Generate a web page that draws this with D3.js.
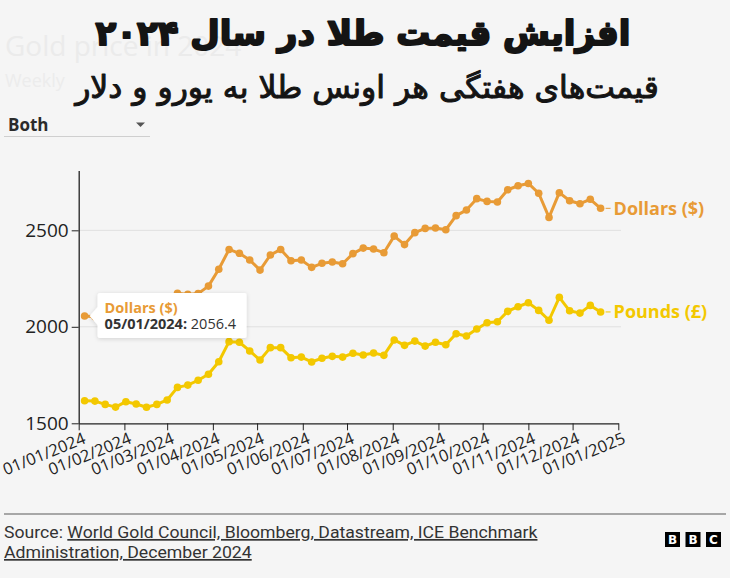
<!DOCTYPE html>
<html>
<head>
<meta charset="utf-8">
<script src="https://cdn.jsdelivr.net/npm/d3@7"></script>
<style>
  body { margin: 0; background: #f5f5f5; }
  svg { display: block; }
</style>
</head>
<body>
<svg id="chart"></svg>
<script>
// weekly prices (Fridays), 2024
const dates = [
  '2024-01-05','2024-01-12','2024-01-19','2024-01-26',
  '2024-02-02','2024-02-09','2024-02-16','2024-02-23',
  '2024-03-01','2024-03-08','2024-03-15','2024-03-22','2024-03-29',
  '2024-04-05','2024-04-12','2024-04-19','2024-04-26',
  '2024-05-03','2024-05-10','2024-05-17','2024-05-24','2024-05-31',
  '2024-06-07','2024-06-14','2024-06-21','2024-06-28',
  '2024-07-05','2024-07-12','2024-07-19','2024-07-26',
  '2024-08-02','2024-08-09','2024-08-16','2024-08-23','2024-08-30',
  '2024-09-06','2024-09-13','2024-09-20','2024-09-27',
  '2024-10-04','2024-10-11','2024-10-18','2024-10-25',
  '2024-11-01','2024-11-08','2024-11-15','2024-11-22','2024-11-29',
  '2024-12-06','2024-12-13','2024-12-20'
];

const dollars = [
  2056.4, 2052, 2030, 2025, 2040, 2035, 2020, 2025, 2045, 2174,
  2168, 2172, 2211, 2298, 2401, 2381, 2346, 2294, 2372, 2401,
  2342, 2346, 2308, 2329, 2336, 2327, 2379, 2408, 2403, 2384,
  2470, 2426, 2488, 2510, 2512, 2503, 2576, 2605, 2664, 2650,
  2647, 2710, 2731, 2743, 2692, 2567, 2695, 2653, 2638, 2661,
  2614
];

const pounds = [
  1617, 1615, 1598, 1584, 1612, 1600, 1583, 1598, 1621, 1686,
  1698, 1723, 1754, 1819, 1923, 1920, 1875, 1828, 1892, 1892,
  1840, 1843, 1818, 1837, 1847, 1843, 1863, 1854, 1864, 1852,
  1932, 1904, 1926, 1900, 1920, 1907, 1964, 1952, 1989, 2021,
  2026, 2080, 2104, 2125, 2085, 2034, 2153, 2083, 2071, 2111,
  2077
];

const monthTicks = [
  '2024-01-01','2024-02-01','2024-03-01','2024-04-01','2024-05-01','2024-06-01',
  '2024-07-01','2024-08-01','2024-09-01','2024-10-01','2024-11-01','2024-12-01','2025-01-01'
];
const yTicks = [1500, 2000, 2500];

const title = 'افزایش قیمت طلا در سال ۲۰۲۴';
const subtitle = 'قیمت‌های هفتگی هر اونس طلا به یورو و دلار';

const width = 730;
const height = 578;

const orange = '#e89b36';
const yellow = '#f3c800';

const parseDate = d3.timeParse('%Y-%m-%d');

const svg = d3.select('#chart')
  .attr('width', width)
  .attr('height', height);

svg.append('rect')
  .attr('width', width)
  .attr('height', height)
  .attr('fill', '#f5f5f5');

// faint leftover english header
svg.append('text')
  .attr('x', 5).attr('y', 56)
  .style('font', '28px "Open Sans"')
  .attr('fill', '#ebebeb')
  .text('Gold price in 2024');
svg.append('text')
  .attr('x', 5).attr('y', 87)
  .style('font', '18px "Open Sans"')
  .attr('fill', '#ececec')
  .text('Weekly price of an ounce of gold in US dollars and UK pounds');
// the persian subtitle sits on a plain patch
svg.append('rect')
  .attr('x', 70).attr('y', 64)
  .attr('width', 600).attr('height', 46)
  .attr('fill', '#f5f5f5');

// persian headings: size for height, squeeze to the reference width
const fitText = (txt, cx, baseline, size, weight, strokeW, targetWidth) => {
  const g = svg.append('g');
  const t = g.append('text')
    .attr('text-anchor', 'middle')
    .attr('direction', 'rtl')
    .style('font-family', '"DejaVu Sans", sans-serif')
    .style('font-weight', weight)
    .style('font-size', size + 'px')
    .attr('fill', '#141414')
    .attr('stroke', '#141414')
    .attr('stroke-width', strokeW)
    .attr('stroke-linejoin', 'round')
    .text(txt);
  const len = t.node().getComputedTextLength();
  g.attr('transform', `translate(${cx}, ${baseline}) scale(${targetWidth / len}, 1)`);
  return g;
};

fitText(title, 363, 45, 34, 'bold', 2, 535);
fitText(subtitle, 367, 98, 31, 'normal', 1, 584);

// dropdown
svg.append('text')
  .attr('x', 8).attr('y', 131)
  .style('font', 'bold 17px "Open Sans"')
  .attr('fill', '#2b2b2b')
  .text('Both');
svg.append('path')
  .attr('d', 'M136,122.5 L145,122.5 L140.5,127 Z')
  .attr('fill', '#555');
svg.append('line')
  .attr('x1', 4).attr('x2', 150)
  .attr('y1', 136.5).attr('y2', 136.5)
  .attr('stroke', '#cfcfcf');

// scales
const xScale = d3.scaleTime()
  .domain([parseDate('2024-01-01'), parseDate('2025-01-01')])
  .range([78.7, 618.3]);

const yScale = d3.scaleLinear()
  .domain([1500, 2810])
  .range([423.3, 170.5]);

// grid
svg.append('g')
  .selectAll('line')
  .data([2000, 2500])
  .enter()
  .append('line')
  .attr('x1', 78.7).attr('x2', 621)
  .attr('y1', d => yScale(d)).attr('y2', d => yScale(d))
  .attr('stroke', '#e0e0e0')
  .attr('stroke-width', 1);

const yAxis = d3.axisLeft(yScale)
  .tickValues(yTicks)
  .tickFormat(d3.format('d'))
  .tickSize(7)
  .tickSizeOuter(0)
  .tickPadding(3);

const yG = svg.append('g')
  .attr('id', 'y-axis')
  .attr('transform', 'translate(78.7, 0)')
  .call(yAxis);
yG.select('.domain').attr('stroke', '#222').attr('stroke-width', 1.3);
yG.selectAll('.tick line').attr('stroke', '#222');
yG.selectAll('text')
  .style('font', '19px "Open Sans"')
  .attr('fill', '#222');

const xAxis = d3.axisBottom(xScale)
  .tickValues(monthTicks.map(parseDate))
  .tickFormat(d3.timeFormat('%d/%m/%Y'))
  .tickSize(7)
  .tickSizeOuter(0);

const xG = svg.append('g')
  .attr('id', 'x-axis')
  .attr('transform', 'translate(0, 423.3)')
  .call(xAxis);
xG.select('.domain').attr('stroke', '#222').attr('stroke-width', 1.3);
xG.selectAll('.tick line').attr('stroke', '#222');
xG.selectAll('text')
  .style('font', '16.5px "Open Sans"')
  .attr('fill', '#222')
  .style('text-anchor', 'end')
  .attr('x', 0).attr('y', 0)
  .attr('dy', '0.75em')
  .attr('transform', 'translate(3, 8) rotate(-22)');

// series
const series = [
  { name: 'Dollars ($)', color: orange, values: dollars },
  { name: 'Pounds (£)', color: yellow, values: pounds }
];

const line = d3.line()
  .x(d => xScale(d.date))
  .y(d => yScale(d.value));

series.forEach(s => {
  const pts = dates.map((d, i) => ({ date: parseDate(d), value: s.values[i] }));
  const g = svg.append('g');
  g.append('path')
    .datum(pts)
    .attr('d', line)
    .attr('fill', 'none')
    .attr('stroke', s.color)
    .attr('stroke-width', 3)
    .attr('stroke-linejoin', 'round');
  g.selectAll('circle')
    .data(pts)
    .enter()
    .append('circle')
    .attr('cx', d => xScale(d.date))
    .attr('cy', d => yScale(d.value))
    .attr('r', 3.8)
    .attr('fill', s.color);

  const last = pts[pts.length - 1];
  const lx = xScale(last.date);
  const ly = yScale(last.value);
  g.append('line')
    .attr('x1', lx + 5).attr('x2', lx + 10)
    .attr('y1', ly).attr('y2', ly)
    .attr('stroke', s.color)
    .attr('stroke-width', 1);
  g.append('text')
    .attr('x', lx + 13).attr('y', ly)
    .attr('dy', '0.35em')
    .style('font', 'bold 18px "Open Sans"')
    .attr('fill', s.color)
    .text(s.name);
});

// tooltip on first dollar point
const defs = svg.append('defs');
const f = defs.append('filter').attr('id', 'shadow')
  .attr('x', '-20%').attr('y', '-30%').attr('width', '140%').attr('height', '160%');
f.append('feDropShadow')
  .attr('dx', 0).attr('dy', 1)
  .attr('stdDeviation', 2)
  .attr('flood-color', '#000')
  .attr('flood-opacity', 0.15);

const tipX = xScale(parseDate(dates[0]));
const tipY = yScale(dollars[0]);
const tip = svg.append('g').attr('filter', 'url(#shadow)');
tip.append('path')
  .attr('d', `M${tipX + 14},${tipY - 10} L${tipX + 5},${tipY} L${tipX + 14},${tipY + 10} Z`)
  .attr('fill', '#fff');
tip.append('rect')
  .attr('x', tipX + 13).attr('y', tipY - 23)
  .attr('width', 149).attr('height', 45)
  .attr('rx', 2)
  .attr('fill', '#fff');

svg.append('text')
  .attr('x', tipX + 20).attr('y', tipY - 3)
  .style('font', 'bold 14.5px "Open Sans"')
  .attr('fill', orange)
  .text('Dollars ($)');
const t2 = svg.append('text')
  .attr('x', tipX + 20).attr('y', tipY + 13)
  .style('font', '14.5px "Open Sans"')
  .attr('fill', '#333');
t2.append('tspan').style('font-weight', 'bold').text(d3.timeFormat('%d/%m/%Y')(parseDate(dates[0])) + ':');
t2.append('tspan').text(' ' + dollars[0]);

// footer
svg.append('line')
  .attr('x1', 4).attr('x2', 726)
  .attr('y1', 514).attr('y2', 514)
  .attr('stroke', '#8c8c8c')
  .attr('stroke-width', 1.5);

const footLines = [
  { pre: 'Source: ', link: 'World Gold Council, Bloomberg, Datastream, ICE Benchmark', y: 538, w: 534 },
  { pre: '', link: 'Administration, December 2024', y: 558, w: 248 }
];
footLines.forEach(l => {
  const g = svg.append('g');
  const t = g.append('text')
    .style('font', '17px "Liberation Sans Narrow", Roboto, sans-serif')
    .attr('fill', '#333');
  if (l.pre) t.append('tspan').text(l.pre);
  t.append('tspan').style('text-decoration', 'underline').text(l.link);
  const len = t.node().getComputedTextLength();
  g.attr('transform', `translate(4, ${l.y}) scale(${l.w / len}, 1)`);
});

// BBC blocks
const bbc = svg.append('g').attr('transform', 'translate(665, 532)');
['B', 'B', 'C'].forEach((ch, i) => {
  bbc.append('rect')
    .attr('x', i * 20.5).attr('y', 0)
    .attr('width', 15).attr('height', 15)
    .attr('fill', '#000');
  bbc.append('text')
    .attr('x', i * 20.5 + 7.5).attr('y', 12)
    .attr('text-anchor', 'middle')
    .style('font', 'bold 12px "DejaVu Sans"')
    .attr('fill', '#fff')
    .text(ch);
});
</script>
</body>
</html>
